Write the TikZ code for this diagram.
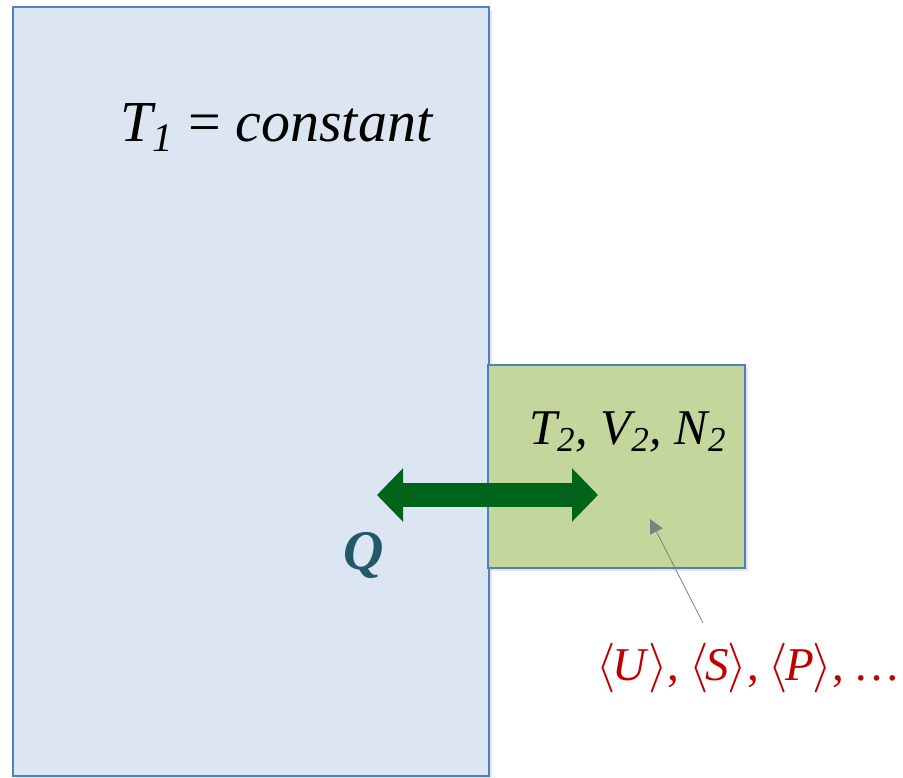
\documentclass[tikz,border=0pt]{standalone}
\usepackage{fontspec}
\setmainfont{Liberation Serif}
\usepackage{tikz}
\usetikzlibrary{arrows.meta, positioning, shadows}

\definecolor{resblue}{HTML}{DCE6F2}
\definecolor{edgeblue}{HTML}{4F81BD}
\definecolor{sysgreen}{HTML}{C3D69B}
\definecolor{heatgreen}{RGB}{0,99,26}
\definecolor{qteal}{HTML}{215968}
\definecolor{avgred}{HTML}{C00000}

\newcommand{\avgof}[1]{$\langle$\kern-1.5pt\textit{#1}\kern-0.5pt$\rangle$}

\begin{document}
\begin{tikzpicture}[
    x=0.5pt, y=0.5pt,
    box/.style={draw=edgeblue, line width=1pt, rectangle, inner sep=0pt,
      drop shadow={opacity=0.2, shadow xshift=1.5pt, shadow yshift=-1.5pt}},
    lbl/.style={inner sep=0pt, anchor=base west},
    heat/.style={{Triangle[length=13pt,width=26pt]}-{Triangle[length=13pt,width=26pt]}, line width=12pt, heatgreen},
    pointer/.style={-{Triangle[length=7pt,width=7pt]}, gray, line width=0.4pt}
  ]
  \useasboundingbox (0,0) rectangle (903,777);

  % reservoir and small system
  \node[box, fill=resblue, minimum width=238pt, minimum height=384.5pt] (res) at (251,385.5) {};
  \node[box, fill=sysgreen, minimum width=128.5pt, minimum height=101.5pt] (sys) at (616.5,310.5) {};

  \node[lbl, font=\fontsize{29}{34}\selectfont\itshape] (t1) at (120,635) {T\textsubscript{1} {\upshape=} constant};
  \node[lbl, font=\fontsize{25}{30}\selectfont\itshape] (t2) at (529,333) {T\textsubscript{2}, V\textsubscript{2}, N\textsubscript{2}};

  % heat flow
  \coordinate (qleft) at (377,282);
  \coordinate (qright) at (598,282);
  \draw[heat] (qleft) -- (qright);
  \node[font=\fontsize{28}{32}\selectfont\bfseries\itshape, text=qteal] (q) at (364,222) {Q};

  % averages
  \node[lbl, text=avgred, font=\fontsize{23.5}{28}\selectfont] (avg) at (596,97)
    {\avgof{U},\kern-1pt\ \avgof{S},\kern-1pt\ \avgof{P},\kern-1pt\ …};
  \coordinate (tail) at (703,154);
  \coordinate (tip) at (650,258);
  \draw[pointer] (tail) -- (tip);
\end{tikzpicture}
\end{document}
